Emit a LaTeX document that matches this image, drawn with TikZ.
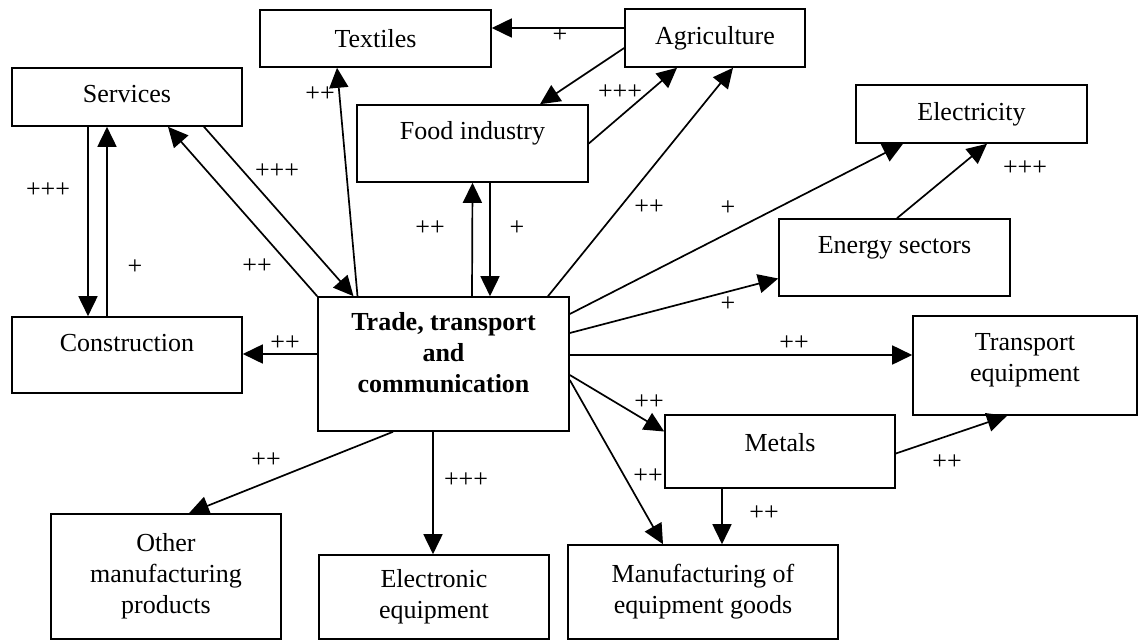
\documentclass[tikz,border=0pt]{standalone}
\usepackage{fontspec}
\setmainfont{Liberation Serif}
\usetikzlibrary{arrows.meta}

\tikzset{
  sector/.style n args={2}{draw, line width=1.6pt, minimum width=#1, minimum height=#2, align=center, inner sep=0pt},
  lift/.style={text depth=#1},
  link/.style={line width=1.7pt, -{Triangle[length=20pt,width=19pt]}},
  sign/.style={inner sep=0pt},
}

\begin{document}
\begin{tikzpicture}[x=1pt, y=-1pt, font=\fontsize{26}{31}\selectfont]

\useasboundingbox (0,0) rectangle (1141,642);

% sectors
\node[sector={231pt}{57pt}] (textiles) at (375.5,38.5) {Textiles};
\node[sector={180pt}{58pt}] (agri) at (715,38) {Agriculture};
\node[sector={230pt}{58pt}, lift=6pt] (services) at (127,97) {Services};
\node[sector={231pt}{77pt}, lift=27pt] (food) at (472.5,143.5) {Food industry};
\node[sector={231pt}{58pt}] (elec) at (971.5,114) {Electricity};
\node[sector={231pt}{77pt}, lift=26pt] (energy) at (894.5,257.5) {Energy sectors};
\node[sector={230pt}{76pt}, lift=24pt] (constr) at (127,355) {Construction};
\node[sector={251pt}{134pt}, lift=24pt, font=\fontsize{26}{31}\selectfont\bfseries] (trade) at (443.5,364) {Trade, transport\\and\\communication};
\node[sector={224pt}{99pt}, lift=17pt] (transp) at (1025,365.5) {Transport\\equipment};
\node[sector={230pt}{73pt}, lift=19pt] (metals) at (780,451.5) {Metals};
\node[sector={270pt}{94pt}] (manuf) at (703,592) {Manufacturing of\\equipment goods};
\node[sector={230pt}{84pt}] (electr) at (434,597) {Electronic\\equipment};
\node[sector={230pt}{125pt}] (other) at (166,576.5) {Other\\manufacturing\\products};

% upper links
\draw[link] ([yshift=10pt]agri.west) -- ([yshift=10.5pt]textiles.east);
\draw[link] ([yshift=-10pt]agri.west) -- ([xshift=67.5pt]food.north);
\draw[link] (food.east) -- ([xshift=-38pt]agri.south);
\draw[link] ([xshift=-86pt]trade.north) -- ([xshift=-38.5pt]textiles.south);
\draw[link] ([xshift=77pt]services.south) -- ([xshift=-90pt]trade.north);
\draw[link] (trade.north west) -- ([xshift=41pt]services.south);
\draw[link] ([xshift=-39pt]services.south) -- ([xshift=-39pt]constr.north);
\draw[link] ([xshift=-20pt]constr.north) -- ([xshift=-20pt]services.south);
\draw[link] ([yshift=10pt]trade.west) -- ([yshift=1pt]constr.east);
\draw[link] ([xshift=28.5pt]trade.north) -- (food.south);
\draw[link] ([xshift=17.5pt]food.south) -- ([xshift=46.5pt]trade.north);
\draw[link] ([xshift=104.5pt]trade.north) -- ([xshift=18pt]agri.south);

% right hand links
\draw[link] ([yshift=50pt]trade.east) -- ([xshift=-68.5pt]elec.south);
\draw[link] ([xshift=2.5pt]energy.north) -- ([xshift=15.5pt]elec.south);
\draw[link] ([yshift=31pt]trade.east) -- ([yshift=-21pt]energy.west);
\draw[link] ([yshift=9pt]trade.east) -- ([yshift=10.5pt]transp.west);
\draw[link] ([yshift=-11pt]trade.east) -- ([yshift=20pt]metals.west);
\draw[link] ([yshift=-16pt]trade.east) -- ([xshift=-40pt]manuf.north);
\draw[link] ([xshift=-58pt]metals.south) -- ([xshift=19pt]manuf.north);
\draw[link] ([yshift=-2pt]metals.east) -- ([xshift=-18pt]transp.south);

% lower links
\draw[link] ([xshift=-10.5pt]trade.south) -- ([xshift=-1pt]electr.north);
\draw[link] ([xshift=-50.5pt]trade.south) -- ([xshift=23pt]other.north);

% signs
\node[sign] (s-agtx) at (560,35) {+};
\node[sign] (s-fdag) at (620,92) {+++};
\node[sign] (s-trtx) at (320,94) {++};
\node[sign] (s-svtr) at (277,171) {+++};
\node[sign] (s-trsv) at (257,266) {++};
\node[sign] (s-svcn) at (48,190) {+++};
\node[sign] (s-cnsv) at (135,267) {+};
\node[sign] (s-trcn) at (285,343) {++};
\node[sign] (s-trfd) at (430,228) {++};
\node[sign] (s-fdtr) at (517,228) {+};
\node[sign] (s-trag) at (649,207) {++};
\node[sign] (s-trel) at (728,208) {+};
\node[sign] (s-ener) at (1025,168) {+++};
\node[sign] (s-tren) at (728,304) {+};
\node[sign] (s-trtp) at (794,343) {++};
\node[sign] (s-trmt) at (649,402) {++};
\node[sign] (s-trmf) at (648,476) {++};
\node[sign] (s-mtmf) at (764,513) {++};
\node[sign] (s-mttp) at (947,462) {++};
\node[sign] (s-trec) at (466,480) {+++};
\node[sign] (s-trot) at (266,460) {++};

\end{tikzpicture}
\end{document}
